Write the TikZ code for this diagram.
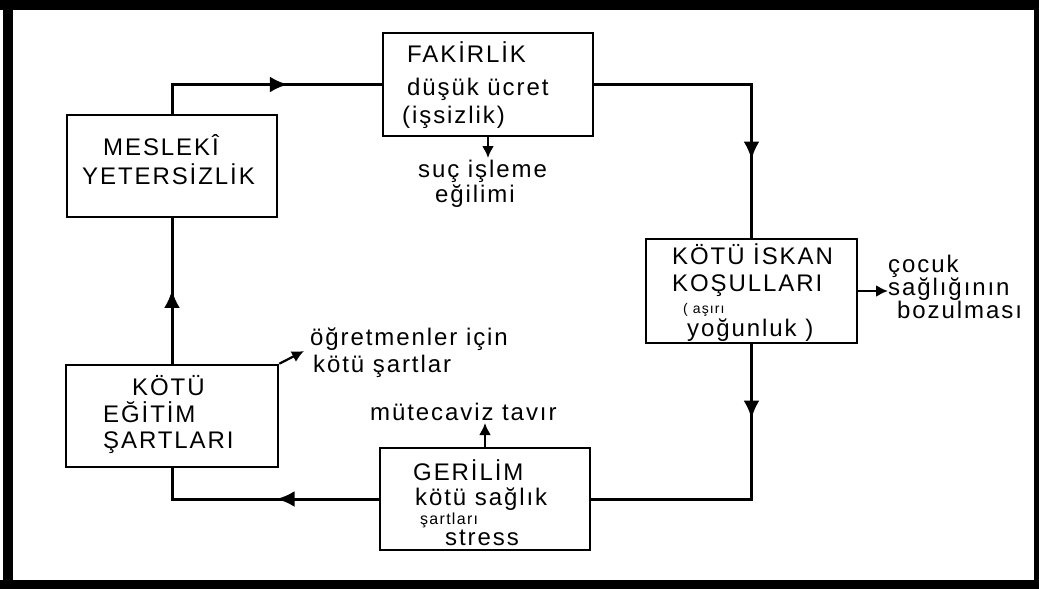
\documentclass[tikz,border=0pt]{standalone}
\usepackage{fontspec}
\newfontfamily\lt{Liberation Sans}[LetterSpace=8]
\usetikzlibrary{arrows.meta,decorations.markings}
\tikzset{
  box/.style={draw, line width=2.5pt, minimum width=210pt, minimum height=102pt, inner sep=0pt},
  conn/.style={line width=3pt},
  lbl/.style={anchor=base west, inner sep=0pt, font=\lt\fontsize{24}{28}\selectfont},
  slbl/.style={anchor=base west, inner sep=0pt, font=\lt\fontsize{16}{19}\selectfont},
  xslbl/.style={anchor=base west, inner sep=0pt, font=\lt\fontsize{14}{17}\selectfont},
  midarrow/.style={postaction={decorate}, decoration={markings, mark=at position #1 with {\arrow{Latex[length=18pt,width=16pt]}}}},
  tip/.style={-{Latex[length=12pt,width=12pt]}, line width=2.2pt}
}
\begin{document}
\begin{tikzpicture}[x=1pt,y=-1pt]
\useasboundingbox (0,0) rectangle (1039,589);
% frame
\fill[black] (0,0) rectangle (1039,10);
\fill[black] (3,0) rectangle (13,589);
\fill[black] (0,580) rectangle (1039,589);
\fill[black] (1034,0) rectangle (1039,589);
% boxes
\node[box, minimum width=210pt, minimum height=103pt] (fak) at (488,84.5) {};
\node[box, minimum width=210pt] (mes) at (172,166) {};
\node[box, minimum width=211pt, minimum height=104pt] (isk) at (751.5,291) {};
\node[box, minimum width=212pt] (egt) at (172,416) {};
\node[box, minimum width=210pt] (ger) at (485,499) {};
% main cycle
\draw[conn, midarrow=0.607] (mes.north) |- (fak.west);
\draw[conn, midarrow=0.748] (fak.east) -| (isk.north);
\draw[conn, midarrow=0.236] (isk.south) |- (ger.east);
\draw[conn, midarrow=0.43] (ger.west) -| (egt.south);
\draw[conn, midarrow=0.507] (egt.north) -- (mes.south);
% box texts
\node[lbl] (t1) at (407,62) {FAKİRLİK};
\node[lbl] (t2) at (407,95) {düşük ücret};
\node[lbl] (t3) at (402,123) {(işsizlik)};
\node[lbl] (t4) at (103,155) {MESLEKÎ};
\node[lbl] (t5) at (82,184) {YETERSİZLİK};
\node[lbl] (t6) at (672,264) {KÖTÜ İSKAN};
\node[lbl] (t7) at (672,291) {KOŞULLARI};
\node[xslbl] (t8) at (683,313) {( aşırı};
\node[lbl] (t9) at (687,336) {yoğunluk )};
\node[lbl] (t10) at (132,395) {KÖTÜ};
\node[lbl] (t11) at (103,422) {EĞİTİM};
\node[lbl] (t12) at (103,448) {ŞARTLARI};
\node[lbl] (t13) at (413,480) {GERİLİM};
\node[lbl] (t14) at (415,505) {kötü sağlık};
\node[slbl] (t15) at (420,524) {şartları};
\node[lbl] (t16) at (445,545) {stress};
% side texts
\node[lbl] (s1) at (418,177) {suç işleme};
\node[lbl] (s2) at (435,202) {eğilimi};
\node[lbl] (c1) at (888,272) {çocuk};
\node[lbl] (c2) at (888,295) {sağlığının};
\node[lbl] (c3) at (897,318) {bozulması};
\node[lbl] (o1) at (310,345) {öğretmenler için};
\node[lbl] (o2) at (313,372) {kötü şartlar};
\node[lbl] (m1) at (370,420) {mütecaviz tavır};
% side arrows
\coordinate (sucend) at (488,158);
\coordinate (cocend) at (888,291);
\coordinate (ogrend) at (304,351);
\coordinate (mutend) at (485,423);
\draw[tip] (fak.south) -- (sucend);
\draw[tip] (isk.east) -- (cocend);
\draw[tip] (egt.north east) -- (ogrend);
\draw[tip] (ger.north) -- (mutend);
\end{tikzpicture}
\end{document}
